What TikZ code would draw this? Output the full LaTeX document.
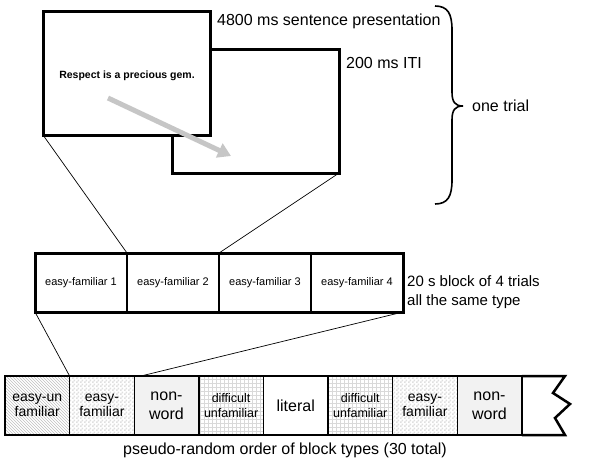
\documentclass[tikz,border=0pt]{standalone}
\usepackage{fontspec}
\setmainfont{Liberation Sans}
\usetikzlibrary{arrows.meta,patterns}
\newcommand{\fs}[2]{\fontsize{#1}{#2}\selectfont}
\pgfdeclarepatternformonly{mygrid}{\pgfqpoint{-1pt}{-1pt}}{\pgfqpoint{5pt}{5pt}}{\pgfqpoint{4pt}{4pt}}{%
  \pgfsetlinewidth{0.4pt}%
  \pgfpathmoveto{\pgfqpoint{0pt}{0pt}}\pgfpathlineto{\pgfqpoint{4.1pt}{0pt}}%
  \pgfpathmoveto{\pgfqpoint{0pt}{0pt}}\pgfpathlineto{\pgfqpoint{0pt}{4.1pt}}%
  \pgfusepath{stroke}}
\pgfdeclarepatternformonly{mychecker}{\pgfpointorigin}{\pgfqpoint{4pt}{4pt}}{\pgfqpoint{4pt}{4pt}}{%
  \pgfpathrectangle{\pgfpointorigin}{\pgfqpoint{2pt}{2pt}}%
  \pgfpathrectangle{\pgfqpoint{2pt}{2pt}}{\pgfqpoint{2pt}{2pt}}%
  \pgfusepath{fill}}
\begin{document}
\begin{tikzpicture}[x=1pt,y=-1pt,
  screen/.style={draw,line width=3pt,fill=white,minimum width=167pt,minimum height=124pt,inner sep=0pt,outer sep=0pt,anchor=north west},
  midcell/.style={draw,line width=1.4pt,minimum width=92pt,minimum height=59pt,inner sep=0pt,outer sep=0pt,anchor=north west,font=\fs{11}{13}},
  botcell/.style={draw,line width=1.4pt,minimum width=64.6pt,minimum height=59pt,inner sep=0pt,outer sep=0pt,anchor=north west,align=center},
  lbl/.style={anchor=west,inner sep=0pt,font=\fs{16}{19}},
  conn/.style={line width=0.7pt},
  hatchA/.style={pattern=north west lines,pattern color=gray!50},
  hatchB/.style={pattern=mychecker,pattern color=gray!25},
  hatchC/.style={fill=gray!10},
  hatchD/.style={pattern=mygrid,pattern color=gray!30}]
\useasboundingbox (0,0) rectangle (600,463);
% screens
\node[screen] (box2) at (172,49) {};
\node[screen] (box1) at (43,11) {};
\node[font=\bfseries\fs{10.5}{12}] (sent) at (127,76) {Respect is a precious gem.};
\coordinate (arrS) at (108,98);
\coordinate (arrE) at (231,156);
\draw[line width=5pt,color=gray!45,-{Triangle[length=13pt,width=15pt]}] (arrS) -- (arrE);
% labels
\node[lbl] (l4800) at (217,21) {4800 ms sentence presentation};
\node[lbl] (l200) at (346,63) {200 ms ITI};
\node[lbl] (ltrial) at (472,106) {one trial};
% brace
\coordinate (brTop) at (435,6);
\coordinate (brTip) at (463,106);
\coordinate (brBot) at (435,204);
\draw[line width=1.6pt] (brTop) .. controls (448,6) and (452,14) .. (452,30) -- (452,92)
  .. controls (452,102) and (455,106) .. (brTip)
  .. controls (455,106) and (452,110) .. (452,120) -- (452,180)
  .. controls (452,196) and (448,204) .. (brBot);
% middle row
\node[midcell] (m1) at (35,253) {easy-familiar 1};
\node[midcell] (m2) at (127,253) {easy-familiar 2};
\node[midcell] (m3) at (219,253) {easy-familiar 3};
\node[midcell] (m4) at (311,253) {easy-familiar 4};
\draw[line width=3pt] (m1.north west) rectangle (m4.south east);
\node[anchor=west,inner sep=0pt,align=left,font=\fs{15}{18.5}] (lblock) at (407,292) {20 s block of 4 trials\\all the same type};
% bottom row
\node[botcell,hatchA,font=\fs{14}{15.5}] (b1) at (5,376) {easy-un\\familiar};
\node[botcell,hatchB,font=\fs{14}{15.5}] (b2) at (69.6,376) {easy-\\familiar};
\node[botcell,hatchC,font=\fs{16}{19}] (b3) at (134.2,376) {non-\\word};
\node[botcell,hatchD,font=\fs{12.5}{15}] (b4) at (198.8,376) {difficult\\unfamiliar};
\node[botcell,font=\fs{16}{19}] (b5) at (263.4,376) {literal};
\node[botcell,hatchD,font=\fs{12.5}{15}] (b6) at (328,376) {difficult\\unfamiliar};
\node[botcell,hatchB,font=\fs{14}{15.5}] (b7) at (392.6,376) {easy-\\familiar};
\node[botcell,hatchC,font=\fs{16}{19}] (b8) at (457.2,376) {non-\\word};
\coordinate (z1) at (565,376);
\coordinate (z2) at (553,393);
\coordinate (z3) at (570,404);
\coordinate (z4) at (555,418);
\coordinate (z5) at (565,435);
\draw[line width=2.5pt,line join=miter] (b8.north east) -- (z1) -- (z2) -- (z3) -- (z4) -- (z5) -- (b8.south east);
\draw[line width=2.5pt] (b1.south west) -- (b1.north west) -- (b8.north east);
\draw[line width=2.5pt] (b1.south west) -- (b8.south east);
\node[anchor=center,inner sep=0pt,font=\fs{16}{19}] (lorder) at (285,450) {pseudo-random order of block types (30 total)};
% connectors
\coordinate (c2) at (141,376);
\draw[conn] (box1.south west) -- (m1.north east);
\draw[conn] (box2.south east) -- (m2.north east);
\draw[conn] (m1.south west) -- (b1.north east);
\draw[conn] (m4.south east) -- (c2);
\end{tikzpicture}
\end{document}
